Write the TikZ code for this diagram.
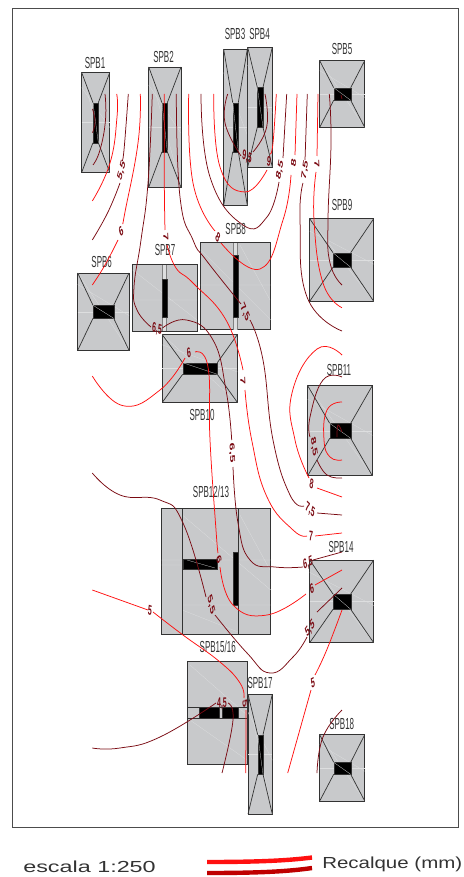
\documentclass[tikz,border=0pt]{standalone}
\usepackage{fontspec}
\setmainfont{Liberation Sans}
\definecolor{cgrey}{HTML}{C8C9CB}
\definecolor{cdark}{HTML}{7A0A12}
\definecolor{cred}{HTML}{FF1010}
\definecolor{csheen}{HTML}{DDDEDF}
\tikzset{
 plate/.style={draw=black!80,fill=cgrey,line width=.9pt},
 ridge/.style={draw=black!80,line width=.7pt},
 core/.style={fill=black,draw=black!80,line width=.3pt},
 sheen/.style={draw=csheen,line width=.25pt},
 tag/.style={font=\fontsize{16}{16}\selectfont,xscale=.5,text=black!80,inner sep=0pt},
 val/.style={font=\bfseries\fontsize{14}{14}\selectfont,xscale=.5,text=cdark,inner sep=0pt},
 redline/.style={cred,line width=.75pt},
 darkline/.style={cdark,line width=.75pt},
}
% \ftg{x0}{y0}{x1}{y1}{cx0}{cy0}{cx1}{cy1}: plate, corner ridges and core
\newcommand{\ftg}[8]{%
 \path[plate] (#1,#2) rectangle (#3,#4);
 \draw[sheen] (#1,#2) -- (#3,#4);
 \draw[sheen] (#1,{#2+(#4-#2)*.5}) -- (#3,{#2+(#4-#2)*.5});
 \draw[sheen] (#1,{#2+(#4-#2)*.15}) -- (#3,{#2+(#4-#2)*.55});
 \draw[ridge] (#1,#2) -- (#5,#6) (#3,#2) -- (#7,#6) (#1,#4) -- (#5,#8) (#3,#4) -- (#7,#8);
 \path[core] (#5,#6) rectangle (#7,#8);
 \draw[sheen] (#5,#6) -- (#7,#8);
}
\newcommand{\ctr}[2]{\draw[#1] plot[smooth,tension=.8] coordinates {#2};}
\begin{document}
\begin{tikzpicture}[x=1pt,y=-1pt]
\useasboundingbox (0,0) rectangle (463,877);
\draw[black!70,line width=.8pt] (12,8) rectangle (458,827);
% footings
\ftg{81.7}{72.7}{109.7}{172.3}{93}{102.7}{98.3}{142.7}
\ftg{148.7}{67}{181}{187.3}{162}{102.7}{167.3}{151.7}
\ftg{223.7}{49.3}{247.3}{205.3}{232.7}{102.7}{238.3}{151.7}
\ftg{247.7}{47.3}{272.3}{167}{257.3}{87.3}{263}{127.3}
\ftg{319.7}{60.7}{364.7}{127.3}{333.7}{87.7}{350.7}{100.3}
\ftg{309.7}{218.7}{373.7}{301.3}{333}{252.7}{350.7}{267.3}
\ftg{77.7}{273}{129}{350.3}{93}{305.3}{113.7}{318.3}
\ftg{162.3}{334.7}{237.3}{402.3}{182.7}{362.7}{217.3}{374.3}
\ftg{307.7}{385.7}{372.3}{475.7}{329.7}{423.3}{350.7}{438.3}
\ftg{309.7}{560}{373.7}{642.7}{333}{594}{350.7}{609.3}
\ftg{248}{694.3}{272.3}{814}{257.7}{734.7}{263}{774.3}
\ftg{319.7}{734.7}{364.7}{801}{333.7}{762.3}{350.7}{774.3}
% strip footings
\path[plate] (132.7,264.7) rectangle (197,331);
\draw[sheen] (132.7,300) -- (197,300) (132.7,270) -- (197,320);
\fill[black!50] (162,264.7) rectangle (167.3,331);
\fill[csheen] (163,264.7) rectangle (166.3,331);
\path[core] (162,279.3) rectangle (167.3,317);
\path[plate] (200.7,242.7) rectangle (270.7,329.7);
\draw[sheen] (200.7,285) -- (270.7,285) (200.7,250) -- (270.7,320) (240,245) -- (270,300);
\fill[black!50] (232.7,242.7) rectangle (238.3,329.7);
\fill[csheen] (233.7,242.7) rectangle (237.3,329.7);
\path[core] (232.7,255.3) rectangle (238.3,317);
\path[plate] (161.7,508) rectangle (270.7,634);
\draw[sheen] (161.7,560) -- (270.7,560) (182.3,515) -- (270.7,590) (161.7,565) -- (182.3,565) (182.3,605) -- (270.7,605) (182.3,610) -- (238,632) (240,515) -- (270,570);
\draw[ridge] (182.3,508) -- (182.3,634) (238.3,508) -- (238.3,634);
\path[core] (182.7,559.3) rectangle (217,569.3);
\draw[sheen] (187,560) -- (215,568);
\path[core] (233,552.3) rectangle (238.3,605);
\path[plate] (187.3,661.7) rectangle (247.7,764);
\draw[sheen] (190,665) -- (247,715) (190,720) -- (247,760);
\draw[ridge] (187.3,707.3) -- (247.7,707.3) (187.3,718.3) -- (247.7,718.3);
\path[core] (199,707.3) rectangle (219,718.3);
\path[core] (222,707.3) rectangle (238.3,718.3);
% footing names
\node[tag] (n1) at (95,63) {SPB1};
\node[tag] (n2) at (163.5,56.7) {SPB2};
\node[tag] (n3) at (235,34) {SPB3};
\node[tag] (n4) at (259.5,34) {SPB4};
\node[tag] (n5) at (342,49.3) {SPB5};
\node[tag] (n9) at (342,205) {SPB9};
\node[tag] (n6) at (101.7,262.3) {SPB6};
\node[tag] (n7) at (165,250) {SPB7};
\node[tag] (n8) at (235.7,229) {SPB8};
\node[tag] (n10) at (202,415) {SPB10};
\node[tag] (n11) at (339,370) {SPB11};
\node[tag] (n12) at (211,492) {SPB12/13};
\node[tag] (n14) at (341,547) {SPB14};
\node[tag] (n15) at (217.7,647) {SPB15/16};
\node[tag] (n17) at (260,682.7) {SPB17};
\node[tag] (n18) at (341.7,724) {SPB18};
% contours
\ctr{darkline}{(105,94)(105.5,120)(100,150)(93,165)}
\ctr{darkline}{(92.5,109)(95,122)(92.5,132.7)}
\ctr{redline}{(116.7,94)(117,117)(110,163)(92.3,201)}
\ctr{darkline}{(128.3,94)(124,150)(122,160)}
\ctr{darkline}{(120,183)(108,212)(92.3,240)}
\ctr{redline}{(140.3,94)(138,143)(125,212)(123,223)}
\ctr{redline}{(118,240)(105,265)(92.3,285)}
\ctr{darkline}{(152.3,94)(148,183)(141,240)(134,287)(137,310)(151,327)}
\ctr{darkline}{(162.5,328)(186.7,320)(213,340)(226,390)(231.7,440)}
\ctr{darkline}{(233,467)(238,523)(250,560)(275,567)(303,567)}
\ctr{darkline}{(313,560)(342,552)}
\ctr{redline}{(164.3,94)(164.3,180)(165,230)}
\ctr{redline}{(167,245)(176,268)(193,283)(226,320)(243,370)}
\ctr{redline}{(245,390)(251.7,440)(267,497)(293,530)(307,536)}
\ctr{redline}{(315,536)(342,533)}
\ctr{darkline}{(176.3,94)(180,197)(193,240)(206,260)(241,304)}
\ctr{darkline}{(250,320)(263,360)(273,440)(290,495)(304,506)}
\ctr{darkline}{(317,513)(342,515)}
\ctr{redline}{(188.7,94)(193,183)(215,231)}
\ctr{redline}{(221,243)(260,269)(283,220)(291,175)}
\ctr{redline}{(295,155)(297,94)}
\ctr{darkline}{(201,94)(210,177)(243,225)(267,217)(279,182)}
\ctr{darkline}{(283,158)(286.7,94)}
\ctr{redline}{(213.7,94)(220,167)(245,192)(267,170)}
\ctr{redline}{(270,154)(273,143)(276.3,94)}
\ctr{darkline}{(227.7,94)(225,123)(241,156)}
\ctr{darkline}{(253,152)(266.7,127)(265,94)}
\ctr{darkline}{(307.3,94)(305,160)}
\ctr{darkline}{(303,183)(300,220)(307,297)(342,331)}
\ctr{redline}{(318,94)(317,156)}
\ctr{redline}{(316,172)(314,220)(323,283)(342,307.7)}
\ctr{darkline}{(329.3,94)(331,143)(328,220)(330,263)(342,285)}
\ctr{darkline}{(341,95)(342,99)}
\ctr{redline}{(92.3,376)(123,405.7)(160,390)(185,358)}
\ctr{redline}{(195,352)(208,367)(210,440)(216,530)(218,553)}
\ctr{redline}{(220,567)(233,605)(267,615)(306,594)}
\ctr{redline}{(315,585)(342,570)}
\ctr{redline}{(342,355)(317,349)(292,393)(295,440)(309,478)}
\ctr{redline}{(317,488)(342,497)}
\ctr{darkline}{(342,377)(323,380)(310,417)(310,437)}
\ctr{darkline}{(317,460)(327,475)(342,478)}
\ctr{redline}{(342,402)(327,410)(324,440)(330,457)(342,460)}
\ctr{darkline}{(337,437)(338,425)(342,432)}
\ctr{darkline}{(92.3,473)(120,495)(160,500)(183,523)(206,597)}
\ctr{darkline}{(215,615)(247,653)(270,673)(293,657)(307,637)}
\ctr{darkline}{(317,612)(342,588)}
\ctr{redline}{(92.3,590)(148,610)}
\ctr{redline}{(153,612)(183,635)(220,662)(240,683)(244,698)}
\ctr{redline}{(246,710)(246,730)(245.7,773)}
\ctr{redline}{(287.7,773)(311,690)}
\ctr{redline}{(315,675)(326.7,650)(342,610)}
\ctr{darkline}{(92.3,748)(120,748)(160,737)(216,703)}
\ctr{darkline}{(228,703)(233,720)(222,773)}
\ctr{darkline}{(342,710)(323,737)(317,773)}
% contour values
\node[val,rotate=63] (v1) at (121.7,171) {5,5};
\node[val,rotate=35] (v2) at (121,231) {6};
\node[val,rotate=-85] (v3) at (166,237) {7};
\node[val,rotate=-40] (v4) at (218,237) {8};
\node[val,rotate=-10] (v5) at (157,329) {6,5};
\node[val,rotate=15] (v6) at (189,353) {6};
\node[val,rotate=-50] (v7) at (245,313) {7,5};
\node[val,rotate=-85] (v8) at (243,381) {7};
\node[val,rotate=-85] (v9) at (232,453) {6,5};
\node[val,rotate=-15] (v10) at (247,157) {9,5};
\node[val,rotate=-10] (v11) at (269,161) {9};
\node[val,rotate=70] (v12) at (280,170) {8,5};
\node[val,rotate=80] (v13) at (293.5,163) {8};
\node[val,rotate=75] (v14) at (305,170) {7,5};
\node[val,rotate=-85] (v15) at (317,164) {7};
\node[val,rotate=-75] (v16) at (314,447) {8,5};
\node[val,rotate=-15] (v17) at (311.5,484) {8};
\node[val,rotate=-25] (v18) at (310,510) {7,5};
\node[val,rotate=-5] (v19) at (311,536) {7};
\node[val,rotate=15] (v20) at (308,563) {6,5};
\node[val,rotate=20] (v21) at (312,589) {6};
\node[val,rotate=-70] (v22) at (219,560) {6};
\node[val,rotate=-65] (v23) at (211,605) {5,5};
\node[val,rotate=-10] (v24) at (150,610) {5};
\node[val,rotate=35] (v25) at (310,629) {5,5};
\node[val,rotate=15] (v26) at (313,683) {5};
\node[val,rotate=-80] (v27) at (245,704) {5};
\node[val,rotate=0] (v28) at (222,704) {4,5};
% legend
\node[anchor=west,inner sep=0pt,font=\fontsize{16}{16}\selectfont,text=black!80,xscale=1.46] (scale) at (23,866.5) {escala 1:250};
\draw[cred,line width=4.4pt] (207,862) .. controls (250,862) and (285,861) .. (312,857.5);
\draw[black!25!red,line width=4.4pt] (207,873) .. controls (250,873) and (285,872) .. (312,868);
\node[anchor=west,inner sep=0pt,font=\fontsize{16}{16}\selectfont,text=black!80,xscale=1.28] (rec) at (322,864) {Recalque (mm)};
\end{tikzpicture}
\end{document}
